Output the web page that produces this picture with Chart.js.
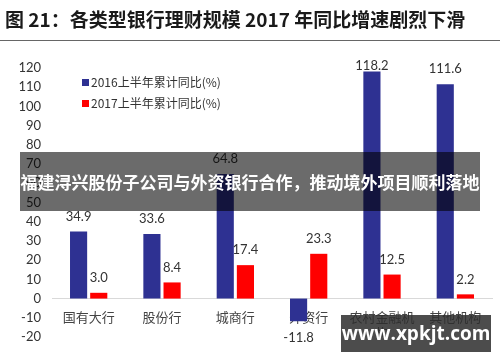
<!DOCTYPE html>
<html>
<head>
<meta charset="utf-8">
<script src="https://cdn.jsdelivr.net/npm/chart.js@4"></script>
<style>
  body { margin: 0; background: #fff; }
  #wrap { position: relative; width: 500px; height: 362px; overflow: hidden; font-family: "Noto Sans CJK SC", sans-serif; }
  #myChart { position: absolute; left: 0; top: 0; }
  #title { position: absolute; left: 5px; top: 5px; font-size: 19px; font-weight: bold; color: #1a1a1a; white-space: nowrap; }
  #rule { position: absolute; left: 0; top: 40px; width: 500px; height: 1px; background: #666; }
  .leg { position: absolute; left: 82px; font-size: 12px; color: #333; white-space: nowrap; }
  .leg span { display: inline-block; width: 7px; height: 7px; margin-right: 2px; vertical-align: 1px; }
  #banner { position: absolute; left: 20px; top: 152px; width: 460px; height: 59px; background: rgba(0,0,0,0.58); color: #fff; font-size: 17px; font-weight: bold; line-height: 59px; text-align: center; white-space: nowrap; }
  #mark { position: absolute; left: 341px; top: 315px; width: 150px; height: 37px; background: rgba(45,45,45,0.85); color: #fff; font-family: "Open Sans", sans-serif; font-size: 19px; font-weight: bold; line-height: 37px; text-align: center; }
</style>
</head>
<body>
<div id="wrap">
  <canvas id="myChart" width="500" height="362"></canvas>
  <div id="title">图 21：各类型银行理财规模 2017 年同比增速剧烈下滑</div>
  <div id="rule"></div>
  <div class="leg" style="top:73px"><span style="background:#2e3192"></span>2016上半年累计同比(%)</div>
  <div class="leg" style="top:94px"><span style="background:#ff0000"></span>2017上半年累计同比(%)</div>
  <div id="banner">福建浔兴股份子公司与外资银行合作，推动境外项目顺利落地</div>
  <div id="mark">www.xpkjt.com</div>
</div>
<script>
const categories = ["国有大行", "股份行", "城商行", "外资行", ["农村金融机", "构"], "其他机构"];
const series2016 = [34.9, 33.6, 64.8, -11.8, 118.2, 111.6];
const series2017 = [3.0, 8.4, 17.4, 23.3, 12.5, 2.2];
const seriesNames = ["2016上半年累计同比(%)", "2017上半年累计同比(%)"];
const yMin = -20;
const yMax = 120;
const yStep = 10;

// draws the value above (or below) each bar
const valueLabels = {
  id: "valueLabels",
  afterDatasetsDraw(chart) {
    const ctx = chart.ctx;
    ctx.save();
    ctx.font = "13px Lato";
    ctx.fillStyle = "#333";
    ctx.textAlign = "center";
    ctx.textBaseline = "middle";
    chart.data.datasets.forEach((ds, i) => {
      chart.getDatasetMeta(i).data.forEach((bar, j) => {
        const v = ds.data[j];
        let y = v >= 0 ? bar.y - 15 : bar.y + 17;
        if (y < 66) y = 66;
        ctx.fillText(v.toFixed(1), bar.x, y);
      });
    });
    ctx.restore();
  },
};

const config = {
  type: "bar",
  data: {
    labels: categories,
    datasets: [
      {
        label: seriesNames[0],
        data: series2016,
        backgroundColor: "#2e3192",
        categoryPercentage: 0.55,
        barPercentage: 0.85,
      },
      {
        label: seriesNames[1],
        data: series2017,
        backgroundColor: "#ff0000",
        categoryPercentage: 0.55,
        barPercentage: 0.85,
      },
    ],
  },
  options: {
    responsive: false,
    animation: false,
    layout: { padding: { top: 68, bottom: 25, right: 8, left: 0 } },
    plugins: { legend: { display: false }, tooltip: { enabled: false } },
    scales: {
      x: {
        position: { y: 0 },
        grid: { display: false, drawTicks: false },
        border: { color: "#d9d9d9", width: 1 },
        ticks: {
          padding: 11,
          color: "#444",
          font: { size: 13, family: "Noto Sans CJK SC" },
          maxRotation: 0,
          autoSkip: false,
        },
      },
      y: {
        min: yMin,
        max: yMax,
        afterFit: (s) => { s.width = 52; },
        grid: { display: false, drawTicks: false },
        border: { display: false },
        ticks: {
          stepSize: yStep,
          padding: 11,
          color: "#333",
          font: { size: 13, family: "Lato" },
        },
      },
    },
  },
  plugins: [valueLabels],
};
const myChart = new Chart(document.getElementById("myChart"), config);
</script>
</body>
</html>
